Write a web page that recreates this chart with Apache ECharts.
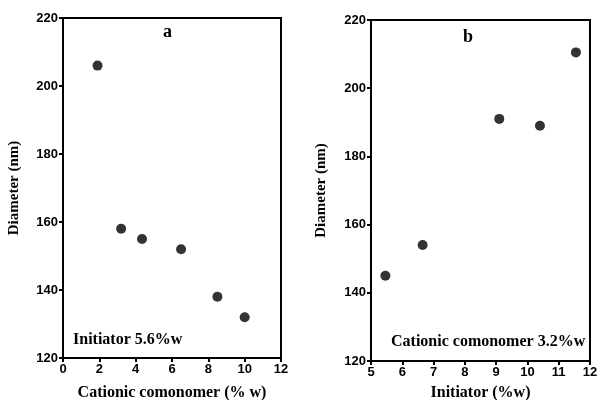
<!DOCTYPE html>
<html><head><meta charset="utf-8">
<script src="https://cdn.jsdelivr.net/npm/echarts@6/dist/echarts.min.js"></script>
<style>html,body{margin:0;padding:0;background:#fff}#c{width:598px;height:400px}</style>
</head><body><div id="c"></div>
<script>
const comonomerA = [1.9, 3.2, 4.35, 6.5, 8.5, 10.0];
const diameterA = [206, 158, 155, 152, 138, 132];
const initiatorB = [5.46, 6.65, 9.1, 10.4, 11.55];
const diameterB = [145, 154, 191, 189, 210.5];
const xTicksA = [0, 2, 4, 6, 8, 10, 12];
const xTicksB = [5, 6, 7, 8, 9, 10, 11, 12];
const yTicks = [120, 140, 160, 180, 200, 220];

const serif = '"Liberation Serif","Times New Roman",serif';
const sans = '"Liberation Sans",Arial,sans-serif';
const chart = echarts.init(document.getElementById('c'), null, {renderer: 'canvas'});
function xAxis(idx, ticks, name, gap) {
  return {
    gridIndex: idx, type: 'value', min: ticks[0], max: ticks[ticks.length - 1],
    interval: ticks[1] - ticks[0], name: name, nameLocation: 'middle', nameGap: gap,
    nameTextStyle: {fontFamily: serif, fontWeight: 'bold', fontSize: 16, color: '#000'},
    axisLine: {lineStyle: {color: '#000', width: 2}},
    axisTick: {inside: false, length: 4, lineStyle: {color: '#000', width: 2}},
    axisLabel: {fontFamily: sans, fontWeight: 'bold', fontSize: 13, color: '#000', margin: 5},
    splitLine: {show: false}
  };
}
function yAxis(idx, gap) {
  return {
    gridIndex: idx, type: 'value', min: yTicks[0], max: yTicks[yTicks.length - 1], interval: 20,
    name: 'Diameter (nm)', nameLocation: 'middle', nameGap: gap,
    nameTextStyle: {fontFamily: serif, fontWeight: 'bold', fontSize: 15, color: '#000'},
    axisLine: {lineStyle: {color: '#000', width: 2}},
    axisTick: {inside: false, length: 4, lineStyle: {color: '#000', width: 2}},
    axisLabel: {fontFamily: sans, fontWeight: 'bold', fontSize: 13, color: '#000', margin: 5},
    splitLine: {show: false}
  };
}
chart.setOption({
  animation: false,
  backgroundColor: '#fff',
  grid: [
    {left: 63, width: 218, top: 18, height: 340, show: true, borderColor: '#000', borderWidth: 2, backgroundColor: 'transparent', outerBoundsMode: 'none', containLabel: false},
    {left: 371, width: 219, top: 20, height: 341, show: true, borderColor: '#000', borderWidth: 2, backgroundColor: 'transparent', outerBoundsMode: 'none', containLabel: false}
  ],
  xAxis: [xAxis(0, xTicksA, 'Cationic comonomer (% w)', 27), xAxis(1, xTicksB, 'Initiator (%w)', 24)],
  yAxis: [yAxis(0, 41), yAxis(1, 42)],
  series: [
    {type: 'scatter', xAxisIndex: 0, yAxisIndex: 0, symbol: 'circle', symbolSize: 10,
     itemStyle: {color: '#000'}, data: comonomerA.map((x, i) => [x, diameterA[i]])},
    {type: 'scatter', xAxisIndex: 1, yAxisIndex: 1, symbol: 'circle', symbolSize: 10,
     itemStyle: {color: '#000'}, data: initiatorB.map((x, i) => [x, diameterB[i]])}
  ],
  graphic: [
    {type: 'text', left: 163, top: 23, style: {text: 'a', font: 'bold 18px ' + serif, fill: '#000'}},
    {type: 'text', left: 463, top: 28, style: {text: 'b', font: 'bold 18px ' + serif, fill: '#000'}},
    {type: 'text', left: 73, top: 332, style: {text: 'Initiator 5.6%w', font: 'bold 16px ' + serif, fill: '#000'}},
    {type: 'text', left: 391, top: 334, style: {text: 'Cationic comonomer 3.2%w', font: 'bold 16px ' + serif, fill: '#000'}}
  ]
});
</script></body></html>
